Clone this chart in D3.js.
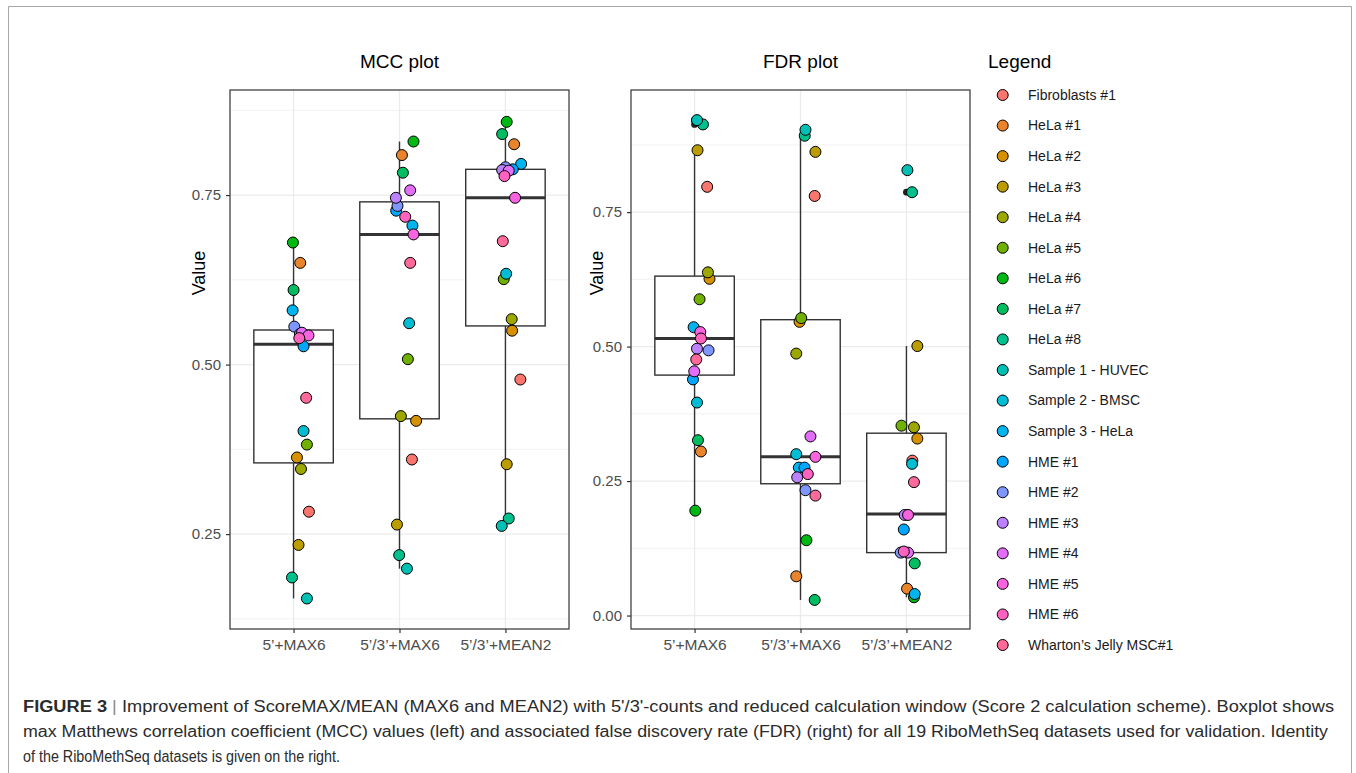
<!DOCTYPE html>
<html>
<head>
<meta charset="utf-8">
<script src="https://cdn.jsdelivr.net/npm/d3@7"></script>
<style>
  body { margin: 0; background: #fff; }
  svg { display: block; font-family: "Liberation Sans", Arial, Helvetica, sans-serif; }
</style>
</head>
<body>
<svg id="figure" width="1356" height="773"></svg>
<script>
// datasets, in legend order
const datasets = [
  "Fibroblasts #1", "HeLa #1", "HeLa #2", "HeLa #3", "HeLa #4", "HeLa #5", "HeLa #6", "HeLa #7", "HeLa #8",
  "Sample 1 - HUVEC", "Sample 2 - BMSC", "Sample 3 - HeLa",
  "HME #1", "HME #2", "HME #3", "HME #4", "HME #5", "HME #6", "Wharton’s Jelly MSC#1"
];
const methods = ["5’+MAX6", "5’/3’+MAX6", "5’/3’+MEAN2"];

const mccTicks = [0.25, 0.50, 0.75];
const fdrTicks = [0.00, 0.25, 0.50, 0.75];

// MCC values per dataset (same order as datasets)
const mccMax6 = [0.283, 0.650, 0.363, 0.234, 0.346, 0.382, 0.680, 0.610, 0.186, 0.155, 0.402, 0.580, 0.527, 0.556, 0.545, 0.547, 0.543, 0.539, 0.451];
const mccMax6b = [0.360, 0.809, 0.417, 0.264, 0.424, 0.508, 0.829, 0.783, 0.219, 0.199, 0.561, 0.705, 0.727, 0.734, 0.746, 0.757, 0.692, 0.718, 0.650];
const mccMean2 = [0.478, 0.825, 0.550, 0.353, 0.567, 0.626, 0.858, 0.840, 0.273, 0.262, 0.634, 0.796, 0.788, 0.791, 0.787, 0.786, 0.746, 0.778, 0.682];

// FDR values per dataset
const fdrMax6 = [0.797, 0.305, 0.626, 0.865, 0.638, 0.588, 0.195, 0.326, 0.913, 0.921, 0.396, 0.536, 0.439, 0.493, 0.496, 0.454, 0.527, 0.515, 0.476];
const fdrMax6b = [0.780, 0.073, 0.546, 0.862, 0.487, 0.553, 0.140, 0.029, 0.892, 0.903, 0.300, 0.275, 0.275, 0.233, 0.257, 0.333, 0.295, 0.263, 0.223];
const fdrMean2 = [0.288, 0.050, 0.329, 0.501, 0.350, 0.353, 0.034, 0.097, 0.787, 0.828, 0.282, 0.040, 0.160, 0.117, 0.187, 0.117, 0.187, 0.119, 0.248];

// horizontal jitter of each point, in category units
const mccJit1 = [0.145, 0.063, 0.032, 0.047, 0.070, 0.126, -0.006, 0.000, -0.015, 0.126, 0.094, -0.009, 0.094, 0.007, 0.060, 0.079, 0.141, 0.054, 0.119];
const mccJit2 = [0.117, 0.023, 0.157, -0.024, 0.013, 0.079, 0.132, 0.032, -0.003, 0.070, 0.091, 0.122, -0.031, -0.019, -0.034, 0.101, 0.132, 0.054, 0.101];
const mccJit3 = [0.141, 0.082, 0.063, 0.012, 0.059, -0.016, 0.012, -0.031, 0.031, -0.035, 0.007, 0.148, 0.069, 0.000, -0.031, 0.031, 0.091, -0.009, -0.025];
const fdrJit1 = [0.119, 0.060, 0.141, 0.028, 0.126, 0.047, 0.007, 0.032, 0.079, 0.023, 0.023, -0.009, -0.015, 0.132, 0.023, -0.003, 0.054, 0.060, 0.016];
const fdrJit2 = [0.134, -0.040, -0.009, 0.141, -0.040, 0.007, 0.056, 0.134, 0.040, 0.047, -0.040, -0.016, 0.038, 0.047, -0.031, 0.094, 0.141, 0.069, 0.141];
const fdrJit3 = [0.056, 0.006, 0.103, 0.103, 0.071, -0.047, 0.071, 0.078, 0.053, 0.009, 0.053, 0.078, -0.025, -0.054, -0.016, 0.015, 0.015, -0.025, 0.071];

// box statistics: [lower whisker, Q1, median, Q3, upper whisker]
const mccBoxes = [
  [0.155, 0.355, 0.530, 0.551, 0.680],
  [0.199, 0.420, 0.692, 0.740, 0.829],
  [0.262, 0.557, 0.746, 0.788, 0.858]
];
const fdrBoxes = [
  [0.195, 0.447, 0.515, 0.631, 0.865],
  [0.029, 0.245, 0.295, 0.550, 0.899],
  [0.034, 0.117, 0.189, 0.339, 0.501]
];

// ggplot2 default hue palette (grDevices::hcl, polar CIE-Luv)
function hclToHex(h, c, l)
{
  const WX = 95.047, WY = 100.0, WZ = 108.883;
  const hr = h * Math.PI / 180;
  const U = c * Math.cos(hr), V = c * Math.sin(hr);
  const Y = l > 7.999592 ? WY * Math.pow((l + 16) / 116, 3) : WY * l / 903.3;
  const t = WX + WY + WZ, x = WX / t, y = WY / t;
  const uN = 2 * x / (6 * y - x + 1.5), vN = 4.5 * y / (6 * y - x + 1.5);
  const u = U / (13 * l) + uN, v = V / (13 * l) + vN;
  const X = 9 * Y * u / (4 * v);
  const Z = -X / 3 - 5 * Y + 3 * Y / v;
  const g = (q) => { q = q > 0.00304 ? 1.055 * Math.pow(q, 1 / 2.4) - 0.055 : 12.92 * q; return Math.max(0, Math.min(1, q)); };
  const r = g((3.240479 * X - 1.537150 * Y - 0.498535 * Z) / WY);
  const gg = g((-0.969256 * X + 1.875992 * Y + 0.041556 * Z) / WY);
  const b = g((0.055648 * X - 0.204043 * Y + 1.057311 * Z) / WY);
  return d3.rgb(r * 255, gg * 255, b * 255).formatHex();
}
const palette = datasets.map((d, i) => hclToHex(15 + i * 360 / datasets.length, 100, 65));
const color = d3.scaleOrdinal().domain(datasets).range(palette);

const svg = d3.select('#figure');

// figure frame
svg.append('path')
  .attr('d', 'M8.5,780 V6.5 H1351.5 V780')
  .attr('fill', 'none')
  .attr('stroke', '#a6a6a6')
  .attr('stroke-width', 1);

function drawPanel(cfg)
{
  const g = svg.append('g');
  const x = d3.scalePoint().domain(methods).range([cfg.left, cfg.right]).padding(0.6);
  const y = d3.scaleLinear().domain(cfg.domain).range([cfg.bottom, cfg.top]);
  const step = x.step();

  // minor grid
  const minor = [];
  for (let i = -1; i < cfg.ticks.length; i++)
  {
    const a = i < 0 ? cfg.ticks[0] - 0.25 : cfg.ticks[i];
    const m = a + 0.125;
    if (m > cfg.domain[0] && m < cfg.domain[1]) minor.push(m);
  }
  g.selectAll('.minor').data(minor).join('line')
    .attr('x1', cfg.left).attr('x2', cfg.right)
    .attr('y1', d => y(d)).attr('y2', d => y(d))
    .attr('stroke', '#f2f2f2').attr('stroke-width', 1);
  // major grid
  g.selectAll('.majorY').data(cfg.ticks).join('line')
    .attr('x1', cfg.left).attr('x2', cfg.right)
    .attr('y1', d => y(d)).attr('y2', d => y(d))
    .attr('stroke', '#ebebeb').attr('stroke-width', 1.3);
  g.selectAll('.majorX').data(methods).join('line')
    .attr('x1', d => x(d)).attr('x2', d => x(d))
    .attr('y1', cfg.top).attr('y2', cfg.bottom)
    .attr('stroke', '#ebebeb').attr('stroke-width', 1.3);

  // boxplots
  const bw = step * 0.75;
  cfg.boxes.forEach((b, i) =>
  {
    const cx = x(methods[i]);
    g.append('line').attr('x1', cx).attr('x2', cx).attr('y1', y(b[3])).attr('y2', y(b[4]))
      .attr('stroke', '#333').attr('stroke-width', 1.4);
    g.append('line').attr('x1', cx).attr('x2', cx).attr('y1', y(b[1])).attr('y2', y(b[0]))
      .attr('stroke', '#333').attr('stroke-width', 1.4);
    g.append('rect').attr('x', cx - bw / 2).attr('y', y(b[3]))
      .attr('width', bw).attr('height', y(b[1]) - y(b[3]))
      .attr('fill', '#fff').attr('stroke', '#333').attr('stroke-width', 1.4);
    g.append('line').attr('x1', cx - bw / 2).attr('x2', cx + bw / 2).attr('y1', y(b[2])).attr('y2', y(b[2]))
      .attr('stroke', '#333').attr('stroke-width', 3);
    // outliers (1.5 * IQR rule), drawn by the boxplot in black
    const iqr = b[3] - b[1];
    const outs = cfg.values[i].filter(v => v > b[3] + 1.5 * iqr || v < b[1] - 1.5 * iqr);
    g.selectAll(null).data(outs).join('circle')
      .attr('cx', cx).attr('cy', d => y(d)).attr('r', 3.4).attr('fill', '#222');
  });

  // jittered points
  cfg.values.forEach((vals, i) =>
  {
    const pts = vals.map((v, k) => ({ name: datasets[k], v, j: cfg.jitter[i][k] }));
    g.selectAll(null).data(pts).join('circle')
      .attr('cx', d => x(methods[i]) + d.j * step)
      .attr('cy', d => y(d.v))
      .attr('r', 5.5)
      .attr('fill', d => color(d.name))
      .attr('stroke', '#000').attr('stroke-width', 1);
  });

  // panel border
  g.append('rect')
    .attr('x', cfg.left).attr('y', cfg.top)
    .attr('width', cfg.right - cfg.left).attr('height', cfg.bottom - cfg.top)
    .attr('fill', 'none').attr('stroke', '#333').attr('stroke-width', 1.2);

  // y axis
  const yAxis = g.append('g')
    .attr('transform', `translate(${ cfg.left },0)`)
    .call(d3.axisLeft(y).tickValues(cfg.ticks).tickFormat(d3.format('.2f')).tickSize(4).tickPadding(5));
  yAxis.select('.domain').remove();
  yAxis.selectAll('line').attr('stroke', '#333').attr('stroke-width', 1.2);
  yAxis.selectAll('text').attr('fill', '#4d4d4d').style('font-size', '15px').style('font-family', null);

  // x axis
  const xAxis = g.append('g')
    .attr('transform', `translate(0,${ cfg.bottom })`)
    .call(d3.axisBottom(x).tickSize(4).tickPadding(6));
  xAxis.select('.domain').remove();
  xAxis.selectAll('line').attr('stroke', '#333').attr('stroke-width', 1.2);
  xAxis.selectAll('text').attr('fill', '#4d4d4d').style('font-size', '15.5px').style('font-family', null);

  // titles
  g.append('text')
    .attr('x', (cfg.left + cfg.right) / 2).attr('y', 68)
    .attr('text-anchor', 'middle').style('font-size', '19px')
    .text(cfg.title);
  g.append('text')
    .attr('transform', `translate(${ cfg.labelX },273) rotate(-90)`)
    .attr('text-anchor', 'middle').style('font-size', '18px')
    .text('Value');
}

drawPanel({
  left: 230, right: 569, top: 90, bottom: 629, labelX: 205,
  domain: [0.110, 0.905], ticks: mccTicks, title: 'MCC plot',
  values: [mccMax6, mccMax6b, mccMean2],
  jitter: [mccJit1, mccJit2, mccJit3],
  boxes: mccBoxes
});
drawPanel({
  left: 631, right: 970, top: 90, bottom: 629, labelX: 603,
  domain: [-0.025, 0.977], ticks: fdrTicks, title: 'FDR plot',
  values: [fdrMax6, fdrMax6b, fdrMean2],
  jitter: [fdrJit1, fdrJit2, fdrJit3],
  boxes: fdrBoxes
});

// legend
const legend = svg.append('g');
legend.append('text').attr('x', 988).attr('y', 68).style('font-size', '19px').text('Legend');
const rowY = d3.scalePoint().domain(datasets).range([95, 645]);
const items = legend.selectAll('.item').data(datasets).join('g')
  .attr('transform', d => `translate(0,${ rowY(d) })`);
items.append('circle').attr('cx', 1002.7).attr('cy', 0).attr('r', 5.5)
  .attr('fill', d => color(d)).attr('stroke', '#000').attr('stroke-width', 1);
items.append('text').attr('x', 1028).attr('y', 0).attr('dy', '0.35em')
  .style('font-size', '14px').attr('fill', '#1a1a1a').text(d => d);

// caption
const captionLines = [
  "Improvement of ScoreMAX/MEAN (MAX6 and MEAN2) with 5'/3'-counts and reduced calculation window (Score 2 calculation scheme). Boxplot shows",
  "max Matthews correlation coefficient (MCC) values (left) and associated false discovery rate (FDR) (right) for all 19 RiboMethSeq datasets used for validation. Identity",
  "of the RiboMethSeq datasets is given on the right."
];
const captionEnds = [1334, 1328, 340];
const caption = svg.append('g').attr('fill', '#2b2b2b').style('font-size', '16px');
captionLines.forEach((line, i) =>
{
  const t = caption.append('text')
    .attr('x', 23).attr('y', 712 + i * 25)
    .attr('textLength', captionEnds[i] - 23)
    .attr('lengthAdjust', 'spacingAndGlyphs');
  if (i === 0)
  {
    t.append('tspan').style('font-weight', 'bold').text('FIGURE 3');
    t.append('tspan').attr('fill', '#888').text(' | ');
  }
  t.append('tspan').text(line);
});
</script>
</body>
</html>
